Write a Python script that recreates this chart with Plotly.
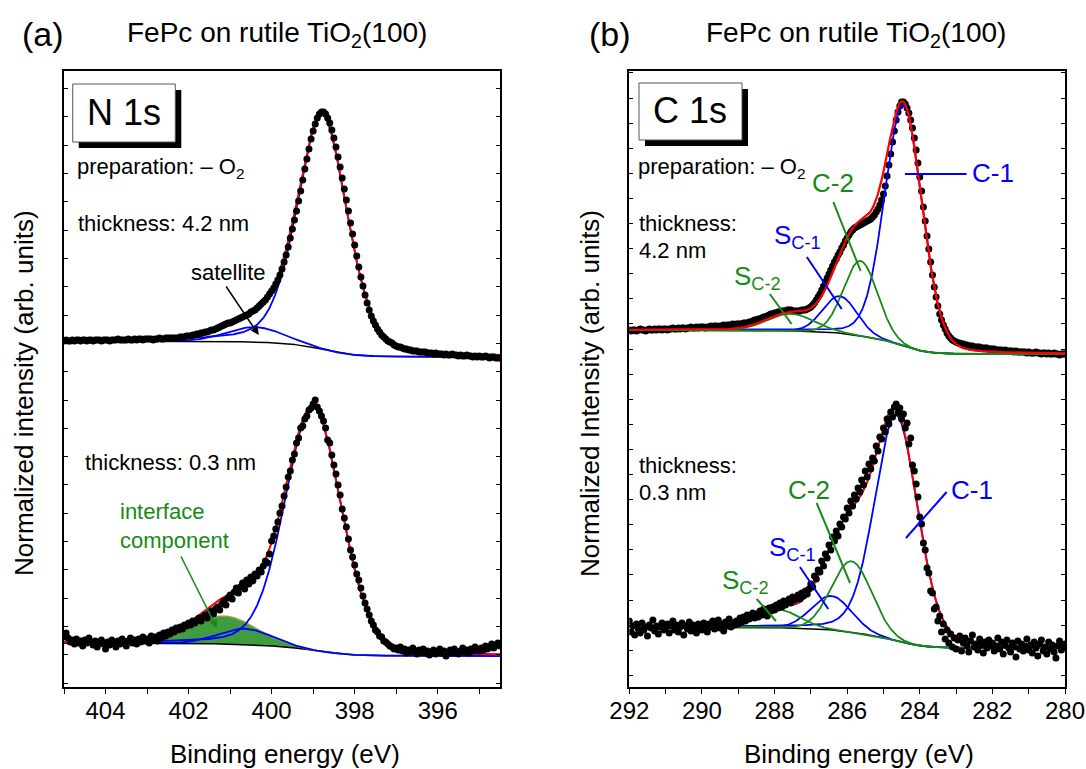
import numpy as np
import plotly.graph_objects as go

# ---------------------------------------------------------------------------
# Measured spectra (0.05 eV steps, binding energy decreasing left to right)
# intensities in arbitrary units; thick-film spectra are offset upwards
# ---------------------------------------------------------------------------
n1s_energy = np.round(np.arange(405.0, 394.49, -0.05), 2)   # 405.00 ... 394.50
c1s_energy = np.round(np.arange(292.0, 279.99, -0.05), 2)   # 292.00 ... 280.00

n1s_thick = [
    346, 347, 346, 346, 347, 346, 347, 347, 346, 347, 347, 346, 347, 347, 346, 347, 347, 347, 346, 347,
    347, 347, 346, 347, 347, 347, 348, 347, 347, 347, 347, 348, 347, 347, 348, 347, 348, 348, 347, 348,
    348, 348, 348, 347, 348, 348, 349, 348, 348, 349, 349, 349, 349, 349, 349, 349, 350, 350, 350, 351,
    351, 351, 352, 352, 353, 353, 354, 354, 355, 355, 356, 357, 357, 358, 359, 360, 361, 362, 363, 364,
    364, 365, 366, 367, 368, 369, 370, 371, 372, 373, 375, 376, 377, 379, 381, 383, 385, 387, 390, 393,
    396, 399, 403, 407, 412, 418, 425, 432, 440, 449, 458, 467, 476, 486, 496, 507, 518, 528, 538, 548,
    556, 563, 569, 573, 575, 575, 573, 569, 564, 557, 549, 540, 530, 520, 509, 498, 487, 476, 464, 453,
    442, 431, 420, 410, 401, 392, 384, 377, 371, 366, 362, 358, 355, 352, 350, 348, 346, 345, 344, 342,
    341, 340, 340, 339, 338, 338, 337, 337, 336, 336, 336, 335, 335, 335, 335, 334, 334, 334, 333, 334,
    333, 333, 333, 332, 333, 332, 332, 333, 332, 332, 331, 332, 331, 331, 332, 331, 331, 330, 331, 330,
    331, 330, 330, 331, 330, 329, 330, 330, 329, 329, 329,
]

n1s_thin = [
    50, 54, 49, 45, 47, 43, 48, 44, 46, 41, 47, 44, 49, 45, 42, 46, 40, 44, 47, 43,
    38, 45, 42, 47, 44, 40, 46, 43, 48, 45, 41, 46, 49, 44, 47, 43, 48, 45, 50, 46,
    48, 44, 51, 47, 50, 46, 52, 49, 54, 51, 55, 53, 57, 55, 59, 57, 60, 58, 62, 61,
    64, 62, 66, 64, 67, 69, 66, 70, 72, 69, 74, 76, 73, 78, 80, 77, 83, 86, 82, 89,
    92, 88, 95, 99, 94, 100, 104, 98, 107, 103, 110, 106, 113, 111, 117, 115, 121, 126, 124, 133,
    146, 151, 158, 165, 174, 181, 191, 200, 210, 216, 227, 233, 244, 249, 259, 261, 268, 271, 277, 279,
    283, 287, 280, 276, 271, 266, 259, 247, 244, 232, 222, 213, 202, 192, 178, 169, 160, 148, 137, 130,
    122, 113, 107, 99, 91, 84, 78, 72, 66, 62, 57, 55, 51, 50, 46, 45, 43, 41, 40, 38,
    39, 37, 40, 36, 38, 34, 37, 35, 39, 36, 33, 37, 35, 38, 34, 36, 32, 35, 37, 33,
    35, 38, 34, 36, 31, 35, 37, 34, 38, 35, 33, 36, 39, 35, 37, 34, 38, 36, 40, 37,
    36, 39, 37, 41, 38, 40, 43, 39, 42, 44, 41,
]

c1s_thick = [
    357, 356, 357, 357, 356, 357, 358, 357, 357, 356, 357, 358, 357, 357, 358, 357, 358, 358, 357, 358,
    358, 357, 358, 358, 359, 358, 358, 359, 358, 359, 359, 358, 359, 359, 360, 359, 359, 360, 359, 360,
    360, 360, 359, 360, 360, 361, 360, 361, 361, 360, 361, 361, 362, 361, 362, 362, 362, 363, 362, 363,
    363, 363, 363, 364, 364, 364, 365, 365, 366, 367, 367, 368, 368, 369, 370, 370, 371, 372, 373, 373,
    374, 374, 375, 375, 376, 376, 376, 377, 377, 377, 376, 376, 376, 376, 376, 377, 377, 377, 378, 379,
    380, 382, 384, 387, 390, 393, 397, 401, 405, 409, 413, 417, 421, 425, 428, 432, 435, 439, 442, 446,
    449, 452, 455, 457, 459, 460, 461, 462, 463, 464, 465, 466, 467, 468, 470, 472, 475, 478, 482, 487,
    493, 501, 511, 522, 533, 545, 556, 567, 575, 581, 585, 585, 583, 579, 574, 567, 559, 549, 537, 524,
    510, 496, 480, 466, 451, 438, 425, 412, 400, 390, 381, 373, 367, 362, 358, 354, 351, 349, 347, 346,
    345, 344, 344, 343, 343, 342, 342, 341, 341, 341, 340, 340, 340, 340, 339, 339, 339, 339, 338, 338,
    338, 338, 337, 337, 337, 337, 336, 337, 336, 336, 336, 336, 335, 336, 335, 335, 335, 335, 335, 334,
    335, 334, 334, 334, 335, 334, 334, 333, 334, 334, 333, 334, 333, 333, 334, 333, 333, 332, 333, 333,
    333,
]

c1s_thin = [
    66, 55, 61, 52, 63, 58, 54, 64, 57, 60, 51, 62, 59, 67, 56, 61, 53, 60, 64, 57,
    59, 63, 54, 61, 66, 57, 62, 55, 60, 64, 52, 61, 58, 65, 56, 62, 59, 54, 63, 60,
    57, 64, 61, 55, 63, 60, 66, 58, 62, 67, 59, 63, 56, 65, 61, 68, 60, 64, 62, 66,
    63, 69, 65, 70, 66, 72, 68, 71, 74, 69, 73, 70, 76, 72, 78, 74, 71, 79, 76, 80,
    77, 82, 79, 84, 80, 86, 82, 85, 88, 84, 90, 87, 89, 92, 88, 94, 91, 96, 93, 98,
    103, 100, 111, 108, 117, 115, 126, 121, 133, 129, 142, 137, 150, 146, 156, 151, 163, 160, 170, 168,
    179, 174, 186, 181, 192, 188, 199, 195, 207, 202, 216, 210, 223, 218, 229, 226, 241, 236, 250, 248,
    259, 255, 268, 263, 275, 270, 280, 283, 274, 279, 268, 273, 259, 264, 243, 249, 222, 216, 203, 190,
    170, 163, 144, 137, 119, 114, 96, 94, 78, 80, 66, 71, 55, 63, 48, 57, 44, 53, 40, 49,
    38, 47, 51, 36, 44, 49, 41, 35, 46, 52, 40, 43, 37, 48, 42, 34, 45, 39, 47, 41,
    44, 36, 41, 49, 38, 45, 33, 42, 47, 39, 35, 44, 40, 30, 46, 38, 43, 36, 41, 48,
    37, 42, 34, 45, 39, 31, 43, 47, 36, 40, 33, 45, 38, 42, 35, 29, 41, 46, 37, 40,
    43,
]

# ---------------------------------------------------------------------------
# Fit results: pseudo-Voigt components (center eV, FWHM eV, height, Lorentz
# fraction) on a Shirley background (high-BE level, low-BE level)
# ---------------------------------------------------------------------------
n1s_thick_main = (398.78, 1.42, 235, 0.30)
n1s_thick_sat = (400.40, 1.60, 15, 0.0)
n1s_thick_bg = (346, 330)

n1s_thin_main = (399.00, 1.60, 244, 0.20)
n1s_thin_sat = (400.65, 1.50, 16, 0.0)
n1s_thin_interface = (401.15, 1.80, 28, 0.0)
n1s_thin_bg = (44, 31)

c1s_thick_c1 = (284.45, 1.22, 241, 0.15)
c1s_thick_c2 = (285.63, 1.10, 75, 0.0)
c1s_thick_sc1 = (286.20, 1.10, 37, 0.0)
c1s_thick_sc2 = (287.55, 1.50, 17, 0.0)
c1s_thick_bg = (357, 333)

c1s_thin_c1 = (284.65, 1.40, 226, 0.20)
c1s_thin_c2 = (285.88, 1.30, 71, 0.0)
c1s_thin_sc1 = (286.43, 1.30, 34, 0.0)
c1s_thin_sc2 = (287.90, 1.40, 18, 0.0)
c1s_thin_bg = (60, 39)

BLUE = "#0000ff"
RED = "#ff0000"
GREEN = "#178a17"
FONT = "Liberation Sans, Arial, Helvetica, sans-serif"


def pseudo_voigt(e, params):
    center, fwhm, height, eta = params
    x = (e - center) / fwhm
    return height * ((1 - eta) * np.exp(-4 * np.log(2) * x ** 2) + eta / (1 + 4 * x ** 2))


def shirley(e, peaks, levels):
    """Shirley-type step built from the integrated peak area (e descending)."""
    high, low = levels
    p = peaks[::-1]
    ee = e[::-1]
    cum = np.concatenate([[0.0], np.cumsum(0.5 * (p[1:] + p[:-1]) * np.diff(ee))])
    return (low + (high - low) * cum / cum[-1])[::-1]


def fit_model(e, comps, levels):
    peaks = [pseudo_voigt(e, c) for c in comps]
    bg = shirley(e, np.sum(peaks, axis=0), levels)
    return bg, [bg + p for p in peaks], bg + np.sum(peaks, axis=0)


e_n = np.linspace(405.0, 394.5, 1051)
e_c = np.linspace(292.0, 280.0, 1201)

fig = go.Figure()


def line(x, y, color, width, ax="x", ay="y", **kw):
    fig.add_trace(go.Scatter(x=x, y=y, mode="lines", line=dict(color=color, width=width),
                             xaxis=ax, yaxis=ay, hoverinfo="skip", showlegend=False, **kw))


def dots(x, y, ax="x", ay="y"):
    fig.add_trace(go.Scatter(x=x, y=y, mode="markers",
                             marker=dict(color="black", size=7, line=dict(width=0)),
                             xaxis=ax, yaxis=ay, showlegend=False))


# --- (a) N 1s, 4.2 nm ---
bg, (main, sat), total = fit_model(e_n, [n1s_thick_main, n1s_thick_sat], n1s_thick_bg)
line(e_n, bg, "black", 1.5)
line(e_n, sat, BLUE, 1.8)
line(e_n, main, BLUE, 1.8)
line(e_n, total, RED, 2)
dots(n1s_energy, n1s_thick)

# --- (a) N 1s, 0.3 nm ---
bg, (main, sat, iface), total = fit_model(
    e_n, [n1s_thin_main, n1s_thin_sat, n1s_thin_interface], n1s_thin_bg)
line(e_n, bg, "black", 1.5)
line(e_n, iface, "#a09a3c", 1.5, fill="tonexty", fillcolor="#3f9d3f")
line(e_n, sat, BLUE, 1.8)
line(e_n, main, BLUE, 1.8)
line(e_n, total, RED, 2)
dots(n1s_energy, n1s_thin)

# --- (b) C 1s, 4.2 nm ---
bg, (c1, c2, sc1, sc2), total = fit_model(
    e_c, [c1s_thick_c1, c1s_thick_c2, c1s_thick_sc1, c1s_thick_sc2], c1s_thick_bg)
line(e_c, bg, "black", 1.5, "x2", "y2")
dots(c1s_energy, c1s_thick, "x2", "y2")
line(e_c, c1, BLUE, 1.8, "x2", "y2")
line(e_c, sc1, BLUE, 1.8, "x2", "y2")
line(e_c, c2, GREEN, 1.8, "x2", "y2")
line(e_c, sc2, GREEN, 1.8, "x2", "y2")
line(e_c, total, RED, 2.2, "x2", "y2")

# --- (b) C 1s, 0.3 nm ---
bg, (c1, c2, sc1, sc2), total = fit_model(
    e_c, [c1s_thin_c1, c1s_thin_c2, c1s_thin_sc1, c1s_thin_sc2], c1s_thin_bg)
line(e_c, bg, "black", 1.5, "x2", "y2")
line(e_c, c1, BLUE, 1.8, "x2", "y2")
line(e_c, sc1, BLUE, 1.8, "x2", "y2")
line(e_c, c2, GREEN, 1.8, "x2", "y2")
line(e_c, sc2, GREEN, 1.8, "x2", "y2")
line(e_c, total, RED, 2, "x2", "y2")
dots(c1s_energy, c1s_thin, "x2", "y2")

# ---------------------------------------------------------------------------
# Axes
# ---------------------------------------------------------------------------
x_common = dict(showline=True, linecolor="black", linewidth=1.5, mirror=True,
                ticks="outside", ticklen=5, tickwidth=1.2, tickcolor="black",
                tickmode="linear", tick0=0, dtick=2, automargin=False, ticklabelstandoff=-4,
                minor=dict(ticks="outside", ticklen=5, tickwidth=1.2, tickcolor="black", dtick=1),
                showgrid=False, zeroline=False,
                tickfont=dict(family=FONT, size=24, color="black"))
y_common = dict(showline=True, linecolor="black", linewidth=1.5, mirror="ticks",
                ticks="inside", ticklen=4, tickwidth=1, tickcolor="black", automargin=False,
                showticklabels=False, showgrid=False, zeroline=False, range=[0, 616])
top_ticks = dict(side="top", ticks="inside", ticklen=4, tickwidth=1.2, tickcolor="black",
                 tickmode="linear", tick0=0, dtick=1, showticklabels=False, automargin=False,
                 showline=False, showgrid=False, zeroline=False)

dom_a = [64 / 1086, 500 / 1086]
dom_b = [629.3 / 1086, 1065 / 1086]
dom_y = [1 - 687 / 769, 1 - 71 / 769]

fig.update_layout(
    template="none",
    width=1086, height=769, autosize=False,
    margin=dict(l=0, r=0, t=0, b=0, pad=0),
    paper_bgcolor="white", plot_bgcolor="white",
    font=dict(family=FONT, color="black"),
    xaxis=dict(domain=dom_a, range=[405, 394.5], anchor="y", **x_common),
    yaxis=dict(domain=dom_y, anchor="x", tick0=3.7, dtick=28.33, **y_common),
    xaxis2=dict(domain=dom_b, range=[292, 280], anchor="y2", **x_common),
    yaxis2=dict(domain=dom_y, anchor="x2", tick0=11.7, dtick=25.1, **y_common),
    xaxis3=dict(overlaying="x", anchor="y", range=[405, 394.5], **top_ticks),
    xaxis4=dict(overlaying="x2", anchor="y2", range=[292, 280], **top_ticks),
)

# ---------------------------------------------------------------------------
# Labels
# ---------------------------------------------------------------------------
ann = []


def text(x, y, s, size=22, color="black", xanchor="center", ref=("x", "y"), **kw):
    ann.append(dict(x=x, y=y, xref=ref[0], yref=ref[1], text=s, showarrow=False,
                    xanchor=xanchor, yanchor="middle", align="left",
                    font=dict(family=FONT, size=size, color=color), **kw))


P = ("paper", "paper")
text(42.5 / 1086, 1 - 34 / 769, "(a)", 34, ref=P)
text(610 / 1086, 1 - 34 / 769, "(b)", 34, ref=P)
text(277 / 1086, 1 - 34 / 769, "FePc on rutile TiO<sub>2</sub>(100)", 28, ref=P)
text(856 / 1086, 1 - 34 / 769, "FePc on rutile TiO<sub>2</sub>(100)", 28, ref=P)
text(285 / 1086, 1 - 754 / 769, "Binding energy (eV)", 26, ref=P)
text(858.8 / 1086, 1 - 754 / 769, "Binding energy (eV)", 26, ref=P)
text(24 / 1086, 1 - 393 / 769, "Normalized intensity (arb. units)", 26, ref=P, textangle=-90)
text(590 / 1086, 1 - 393 / 769, "Normalized Intensity (arb. units)", 26, ref=P, textangle=-90)

# panel (a)
text(403.56, 574, "N 1s", 36)
text(404.74, 519, "preparation: \u2013 O<sub>2</sub>", 22, xanchor="left")
text(404.70, 464, "thickness: 4.2 nm", 22, xanchor="left")
text(401.04, 415, "satellite", 22)
text(404.55, 225, "thickness: 0.3 nm", 22, xanchor="left")
text(403.70, 176, "interface", 22, GREEN, xanchor="left")
text(403.70, 147, "component", 22, GREEN, xanchor="left")
ann.append(dict(x=400.31, y=352, ax=401.12, ay=402, xref="x", yref="y", axref="x", ayref="y",
                text="", showarrow=True, arrowhead=2, arrowsize=1.1, arrowwidth=1.5,
                arrowcolor="black"))
ann.append(dict(x=401.32, y=59, ax=402.20, ay=132, xref="x", yref="y", axref="x", ayref="y",
                text="", showarrow=True, arrowhead=2, arrowsize=1.1, arrowwidth=1.5,
                arrowcolor=GREEN))

# panel (b)
B = ("x2", "y2")
text(290.33, 576, "C 1s", 36, ref=B)
text(291.82, 519, "preparation: \u2013 O<sub>2</sub>", 22, xanchor="left", ref=B)
text(291.78, 464, "thickness:", 22, xanchor="left", ref=B)
text(291.78, 437, "4.2 nm", 22, xanchor="left", ref=B)
text(286.38, 504, "C-2", 26, GREEN, ref=B)
text(287.36, 451, "S<sub>C-1</sub>", 26, BLUE, ref=B)
text(288.47, 410, "S<sub>C-2</sub>", 26, GREEN, ref=B)
text(282.62, 514, "C-1", 26, BLUE, xanchor="left", ref=B)
text(291.78, 222, "thickness:", 22, xanchor="left", ref=B)
text(291.78, 195, "0.3 nm", 22, xanchor="left", ref=B)
text(287.05, 197, "C-2", 26, GREEN, ref=B)
text(287.50, 139, "S<sub>C-1</sub>", 26, BLUE, ref=B)
text(288.79, 106, "S<sub>C-2</sub>", 26, GREEN, ref=B)
text(282.55, 197, "C-1", 26, BLUE, ref=B)

fig.update_layout(annotations=ann)

# label boxes with drop shadow, and leader lines
shapes = []


def boxed(xref, yref, x0, x1, y0, y1, dx, dy):
    shapes.append(dict(type="rect", xref=xref, yref=yref, x0=x0 + dx, x1=x1 + dx,
                       y0=y0 + dy, y1=y1 + dy, fillcolor="black", line=dict(width=0)))
    shapes.append(dict(type="rect", xref=xref, yref=yref, x0=x0, x1=x1, y0=y0, y1=y1,
                       fillcolor="white", line=dict(color="#555555", width=1)))


def leader(xref, yref, x0, y0, x1, y1, color):
    shapes.append(dict(type="line", xref=xref, yref=yref, x0=x0, y0=y0, x1=x1, y1=y1,
                       line=dict(color=color, width=2)))


boxed("x", "y", 404.79, 402.32, 545, 603, -0.145, -6)
boxed("x2", "y2", 291.733, 288.896, 547, 604, -0.165, -6)

leader("x2", "y2", 286.38, 485, 285.63, 416, GREEN)
leader("x2", "y2", 287.11, 430, 286.15, 378, BLUE)
leader("x2", "y2", 288.13, 393, 287.53, 363, GREEN)
leader("x2", "y2", 284.41, 513, 282.71, 513, BLUE)
leader("x2", "y2", 286.84, 184, 285.92, 104, GREEN)
leader("x2", "y2", 287.30, 120, 286.52, 78, BLUE)
leader("x2", "y2", 288.49, 88, 287.96, 66, GREEN)
leader("x2", "y2", 283.26, 195, 284.38, 149, BLUE)

fig.update_layout(shapes=shapes)

fig.write_html("out.html")
